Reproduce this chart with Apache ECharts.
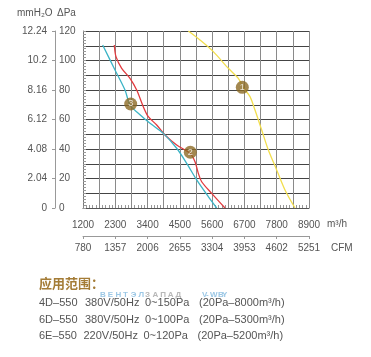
<!DOCTYPE html>
<html><head><meta charset="utf-8">
<script src="https://cdn.jsdelivr.net/npm/echarts@6/dist/echarts.min.js"></script>
<style>html,body{margin:0;padding:0;background:#fff}#c{width:371px;height:357px}</style>
</head><body><div id="c"></div>
<script>
const flowLabels = ['1200','2300','3400','4500','5600','6700','7800','8900'];
const cfmLabels = ['780','1357','2006','2655','3304','3953','4602','5251'];
const paLabels = ['0','20','40','60','80','100','120'];
const mmLabels = ['0','2.04','4.08','6.12','8.16','10.2','12.24'];

const curve1 = [[4790,120],[5186,113.9],[5640,106],[6151,94.7],[6492,87.9],[6662,81.6],[6890,75.5],[7060,66.4],[7288,52.9],[7515,39.3],[7799,25.8],[8082,12.2],[8423,0]];
const curve2 = [[2267,110.5],[2324,102.6],[2518,94.7],[2801,87.9],[3029,80],[3254,68.7],[3425,61.9],[3711,56.3],[3994,49.5],[4392,42.7],[4845,37.1],[5016,31.4],[5129,23.5],[5243,17.8],[5584,9.9],[6038,0]];
const curve3 = [[1870,110.5],[2290,93.6],[2631,80],[2801,69.8],[3084,64.2],[3483,57.4],[3936,50.6],[4392,40.5],[4733,30.3],[5074,19],[5469,7.7],[5755,0]];

const badgeNames = ['1','2','3'];
const badgeX = [6628,4856,2825];
const badgeY = [81.8,37.8,70.5];

const titleText = '应用范围：';
const specRows = [
  ['4D–550','380V/50Hz','0~150Pa','(20Pa–8000m³/h)'],
  ['6D–550','380V/50Hz','0~100Pa','(20Pa–5300m³/h)'],
  ['6E–550','220V/50Hz','0~120Pa','(20Pa–5200m³/h)']
];
const watermark = [['ВЕНТЭЛ','#9cc8e6'],['ЗАПАД','#b8b8b8'],['V-W.BY','#9cc8e6']];

const FONT = 'Liberation Sans, Arial, sans-serif';
const chart = echarts.init(document.getElementById('c'));

const graphics = [
  {type:'text', left:17, top:8, style:{text:'mmH₂O', font:'10px '+FONT, fill:'#555'}},
  {type:'text', left:57, top:8, style:{text:'ΔPa', font:'10px '+FONT, fill:'#555'}},
  {type:'text', left:327, top:219, style:{text:'m³/h', font:'10px '+FONT, fill:'#555'}},
  {type:'text', left:331, top:243, style:{text:'CFM', font:'10px '+FONT, fill:'#555'}},
  {type:'text', left:39, top:277, style:{text:titleText, font:'bold 13px "Noto Sans CJK SC", sans-serif', fill:'#a47c36'}}
];
const wmX = [100, 145, 202];
const wmStep = [7.7, 7.6, 4.0];
watermark.forEach((w, i) => {
  Array.from(w[0]).forEach((ch, j) => {
    graphics.push({type:'text', left: wmX[i] + j*wmStep[i], top:291, style:{text:ch, font:'bold 8px '+FONT, fill:w[1]}});
  });
});
const colX = [39, 85, 145, 199];
const rowY = [297, 314, 330];
specRows.forEach((row, r) => {
  row.forEach((t, c) => {
    graphics.push({type:'text', left: colX[c] - (r===2 && c>0 ? 1.5 : 0), top: rowY[r], style:{text:t, font:'11px '+FONT, fill:'#555'}});
  });
});

function flowFmt(arr){
  return function(v){
    const idx = (v - 1200) / 1100;
    const r = Math.round(idx);
    return Math.abs(idx - r) < 1e-6 ? arr[r] : '';
  };
}

chart.setOption({
  animation:false,
  backgroundColor:'#fff',
  grid:{left:83, right:62, top:31, bottom:149, containLabel:false},
  xAxis:[
    {type:'value', min:1200, max:8900, interval:550, position:'bottom',
     axisLine:{show:true, onZero:false, lineStyle:{color:'#555', width:1}},
     axisTick:{show:true, inside:true, length:3, lineStyle:{color:'#888'}},
     minorTick:{show:true, splitNumber:5, length:3, lineStyle:{color:'#999'}},
     splitLine:{show:true, lineStyle:{color:'#8a8a8a', width:1}},
     axisLabel:{margin:12, fontSize:10, color:'#555', fontFamily:FONT, formatter:flowFmt(flowLabels)}},
    {type:'value', min:1200, max:8900, interval:1100, position:'bottom', offset:28,
     axisLine:{show:true, onZero:false, lineStyle:{color:'#999', width:1}},
     axisTick:{show:true, inside:false, length:3, lineStyle:{color:'#999'}},
     splitLine:{show:false},
     axisLabel:{margin:7, fontSize:10, color:'#555', fontFamily:FONT, formatter:flowFmt(cfmLabels)}}
  ],
  yAxis:[
    {type:'value', min:0, max:120, interval:10, position:'left',
     axisLine:{show:true, onZero:false, lineStyle:{color:'#777', width:1}},
     axisTick:{show:true, inside:true, length:3, lineStyle:{color:'#999'}},
     minorTick:{show:true, splitNumber:5, length:3, lineStyle:{color:'#999'}},
     splitLine:{show:true, lineStyle:{color:'#444', width:1}},
     axisLabel:{show:false}},
    {type:'value', min:0, max:120, interval:20, position:'left', offset:28,
     axisLine:{show:true, onZero:false, lineStyle:{color:'#999', width:1}},
     axisTick:{show:true, inside:false, length:3, lineStyle:{color:'#999'}},
     splitLine:{show:false},
     axisLabel:{inside:true, margin:4, fontSize:10, color:'#555', fontFamily:FONT,
       formatter:function(v){ return paLabels[Math.round(v/20)]; }}},
    {type:'value', min:0, max:120, interval:20, position:'left', offset:28,
     axisLine:{show:false}, axisTick:{show:false}, splitLine:{show:false},
     axisLabel:{margin:8, fontSize:10, color:'#555', fontFamily:FONT,
       formatter:function(v){ return mmLabels[Math.round(v/20)]; }}}
  ],
  series:[
    {type:'line', data:curve1, showSymbol:false, smooth:0.3, lineStyle:{color:'#f2de4e', width:1.3}, xAxisIndex:0, yAxisIndex:0},
    {type:'line', data:curve2, showSymbol:false, smooth:0.3, lineStyle:{color:'#e23b3f', width:1.3}, xAxisIndex:0, yAxisIndex:0},
    {type:'line', data:curve3, showSymbol:false, smooth:0.3, lineStyle:{color:'#3cb4c6', width:1.3}, xAxisIndex:0, yAxisIndex:0},
    {type:'scatter', xAxisIndex:0, yAxisIndex:0, symbol:'circle', symbolSize:13,
     itemStyle:{color:'#8c6a24'},
     label:{show:true, position:'inside', formatter:'{b}', color:'#fff', fontSize:9, fontFamily:FONT},
     data: badgeX.map((x,i)=>({name:badgeNames[i], value:[x, badgeY[i]]})), z:5}
  ],
  graphic: graphics
});
</script>
</body></html>
